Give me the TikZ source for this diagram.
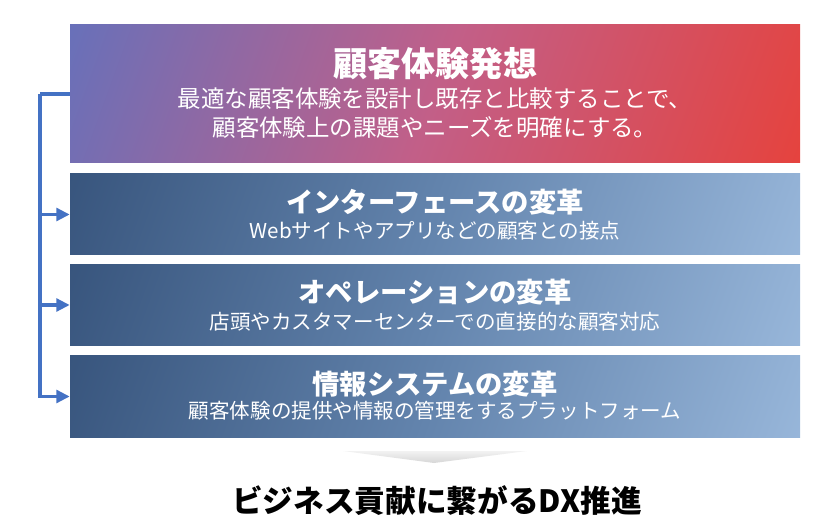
\documentclass[tikz,border=0pt]{standalone}
\usepackage{fontspec}
\setmainfont{Noto Sans CJK JP}
\usetikzlibrary{arrows.meta}

\definecolor{linkblue}{HTML}{4472C4}
\definecolor{expblue}{HTML}{4F75C7}
\definecolor{expmid}{HTML}{C25F88}
\definecolor{expred}{HTML}{EF3B29}
\definecolor{navy}{HTML}{2C4870}
\definecolor{navymid}{HTML}{6384AD}
\definecolor{skyblue}{HTML}{A6C4E6}

% corner-to-corner shadings for shading angle=70
\pgfdeclareverticalshading{expshade}{100bp}{color(0bp)=(expred); color(8.9bp)=(expred);
  color(50bp)=(expmid); color(91.1bp)=(expblue); color(100bp)=(expblue)}
\pgfdeclareverticalshading{subshade}{100bp}{color(0bp)=(skyblue); color(8.9bp)=(skyblue);
  color(50bp)=(navymid); color(91.1bp)=(navy); color(100bp)=(navy)}

\tikzset{
  bigbox/.style={minimum width=547.5pt, minimum height=103.5pt, inner sep=0pt,
    shade, shading=expshade, shading angle=70},
  subbox/.style={minimum width=547.5pt, minimum height=60.75pt, inner sep=0pt,
    shade, shading=subshade, shading angle=70},
  bigttl/.style={text=white, inner sep=0pt, font=\fontsize{25.5}{30}\selectfont\bfseries},
  bigsub/.style={text=white, inner sep=0pt, font=\fontsize{17.6}{21}\selectfont},
  ttl/.style={text=white, inner sep=0pt, font=\fontsize{20.5}{24}\selectfont\bfseries},
  sub/.style={text=white, inner sep=0pt, font=\fontsize{15.4}{18}\selectfont},
  link/.style={draw=linkblue, line width=2.8pt},
  linkarrow/.style={link, -{Triangle[length=10pt, width=9.5pt]}},
}

\begin{document}
\begin{tikzpicture}[x=0.75pt, y=-0.75pt]
\useasboundingbox (0,0) rectangle (840,531);

% boxes
\node[bigbox] (exp) at (435,94) {};
\node[subbox] (ifc) at (435,214.5) {};
\node[subbox] (ope) at (435,305) {};
\node[subbox] (sys) at (435,396.5) {};

% texts
\node[bigttl] (expT) at (435,64) {顧客体験発想};
\node[bigsub] (expS1) at (435,99) {最適な顧客体験を設計し既存と比較することで、};
\node[bigsub] (expS2) at (435,128) {顧客体験上の課題やニーズを明確にする。};

\node[ttl] (ifcT) at (435,202) {インターフェースの変革};
\node[sub] (ifcS) at (435,230.5) {Webサイトやアプリなどの顧客との接点};

\node[ttl] (opeT) at (435,292) {オペレーションの変革};
\node[sub] (opeS) at (435,321.5) {店頭やカスタマーセンターでの直接的な顧客対応};

\node[ttl] (sysT) at (435,384) {情報システムの変革};
\node[sub] (sysS) at (435,410.5) {顧客体験の提供や情報の管理をするプラットフォーム};

% connectors
\coordinate (bus) at (40,94);
\draw[link] (exp.west) -- (bus);
\draw[linkarrow] (bus) |- (sys.west);
\draw[linkarrow] (bus |- ifc.west) -- (ifc.west);
\draw[linkarrow] (bus |- ope.west) -- (ope.west);

% result
\shade[top color=gray!10, bottom color=gray!32] (343,451) -- (527,451) -- (434,463) -- cycle;
\node[inner sep=0pt, font=\fontsize{23}{27}\selectfont\bfseries] (dx) at (437,501) {ビジネス貢献に繋がるDX推進};
\end{tikzpicture}
\end{document}
